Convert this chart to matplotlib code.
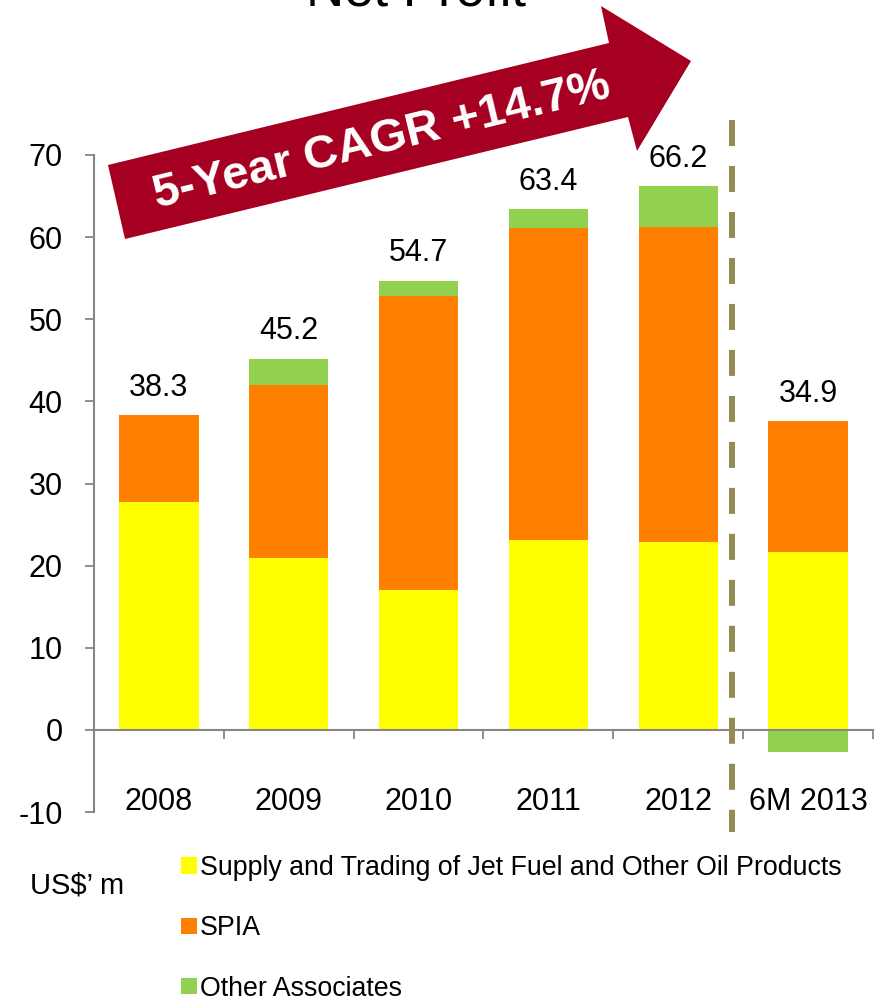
import matplotlib
matplotlib.use('Agg')
import matplotlib.pyplot as plt
import numpy as np
from matplotlib.patches import Polygon

plt.rcParams['font.family'] = ['Liberation Sans', 'DejaVu Sans']
plt.rcParams['axes.unicode_minus'] = False

categories = ['2008', '2009', '2010', '2011', '2012', '6M 2013']
supply = [27.7, 20.9, 17.0, 23.1, 22.9, 21.6]
spia = [10.6, 21.1, 35.8, 38.0, 38.3, 16.0]
other = [0.0, 3.2, 1.9, 2.3, 5.0, -2.7]
total_labels = ['38.3', '45.2', '54.7', '63.4', '66.2', '34.9']
series_names = ['Supply and Trading of Jet Fuel and Other Oil Products', 'SPIA', 'Other Associates']
yticks = [-10, 0, 10, 20, 30, 40, 50, 60, 70]

C_YEL = '#FFFF00'
C_ORA = '#FF8000'
C_GRN = '#92D050'
GRAY = '#868686'

W, H = 883, 1000
fig = plt.figure(figsize=(8.83, 10), dpi=100)
ax = fig.add_axes([94 / W, 188 / H, 779 / W, 657 / H])

x = np.arange(len(categories))
sup = np.array(supply)
sp = np.array(spia)
ot = np.array(other)
bw = 0.61
h1 = ax.bar(x, sup, bw, color=C_YEL, label=series_names[0], zorder=2)
h2 = ax.bar(x, sp, bw, bottom=sup, color=C_ORA, label=series_names[1], zorder=2)
h3 = ax.bar(x, ot, bw, bottom=np.where(ot >= 0, sup + sp, 0), color=C_GRN, label=series_names[2], zorder=2)

tops = sup + sp + np.maximum(ot, 0)
for xi, t, lab in zip(x, tops, total_labels):
    ax.annotate(lab, (xi, t), xytext=(0, 14), textcoords='offset points',
                ha='center', va='baseline', fontsize=22)

ax.set_xlim(-0.5, 5.5)
ax.set_ylim(-10, 70)
for s in ['top', 'right']:
    ax.spines[s].set_visible(False)
ax.spines['bottom'].set_position(('data', 0))
for s in ['left', 'bottom']:
    ax.spines[s].set_color(GRAY)
    ax.spines[s].set_linewidth(1.5)

ax.set_yticks(yticks)
ax.tick_params(axis='y', length=6.5, width=1.3, color=GRAY, pad=16, labelsize=22)
ax.set_xticks(x, categories)
ax.set_xticks(np.arange(0.5, 6, 1), minor=True)
ax.tick_params(axis='x', which='major', length=0, pad=41, labelsize=22)
ax.tick_params(axis='x', which='minor', length=6.5, width=1.3, color=GRAY, direction='out')

# dashed separator
ax.plot([4.415, 4.415], [74.3, -12.4], color='#948A54', lw=4.3,
        dashes=(4.35, 3.35), dash_capstyle='butt', clip_on=False, zorder=5)

# arrow
pts_px = [(108, 165), (609, 43), (601, 6), (691, 61), (637, 151), (628, 117), (125, 239)]
pts = [(px / W, 1 - py / H) for px, py in pts_px]
fig.add_artist(Polygon(pts, closed=True, transform=fig.transFigure, facecolor='#A50021', edgecolor='none'))
fig.text(382 / W, 1 - 141 / H, '5-Year CAGR +14.7%', rotation=13.7, rotation_mode='anchor',
         ha='center', va='center', color='white', fontweight='bold', fontsize=34)

fig.text(416 / W, 1 - 6 / H, 'Net Profit', ha='center', va='baseline', fontsize=38)

fig.legend([h1, h2, h3], series_names, loc='upper left', bbox_to_anchor=(181 / W, 1 - 855 / H),
           frameon=False, fontsize=19.3, handlelength=0.58, handleheight=0.58,
           handletextpad=0.12, labelspacing=1.28, borderpad=0, borderaxespad=0)
fig.text(30 / W, 1 - 886 / H, 'US$\u2019 m', va='center', fontsize=21)

fig.savefig('out.png', dpi=100)
